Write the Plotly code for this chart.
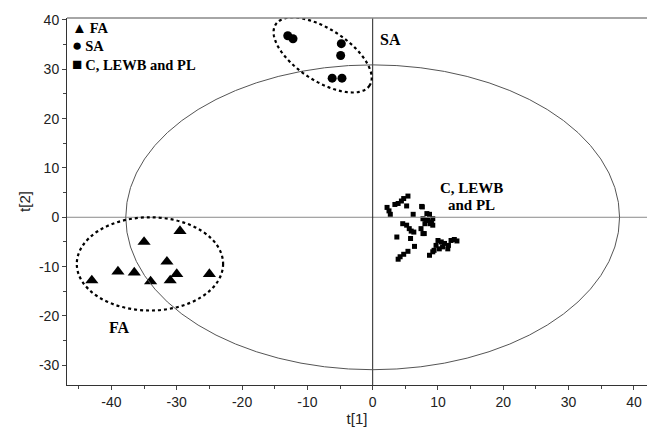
import numpy as np
import plotly.graph_objects as go

# ---- data ----
fa_x = [-43.0, -39.0, -36.5, -35.0, -34.0, -31.5, -31.0, -30.0, -29.5, -25.0]
fa_y = [-12.8, -11.0, -11.2, -5.0, -13.0, -9.0, -12.8, -11.5, -2.8, -11.5]

sa_x = [-13.0, -12.2, -4.8, -4.9, -6.2, -4.7]
sa_y = [36.8, 36.2, 35.2, 32.8, 28.2, 28.2]

c_x = [5.4, 4.75, 4.4, 3.9, 3.4, 5.2, 2.2, 2.5, 2.7, 6.2, 4.6, 5.2, 5.6, 5.9, 6.3,
       3.7, 5.8, 6.4, 5.4, 4.75, 4.2, 3.9,
       7.5, 7.6, 8.3, 8.7, 7.7, 8.4, 9.2, 8.2, 8.0, 8.8, 9.0, 9.2, 7.4, 7.9, 7.7,
       12.0, 12.5, 12.9, 11.6, 11.0, 10.5, 10.0, 9.7, 10.2, 11.5, 9.4, 9.2, 8.7, 10.7]
c_y = [4.3, 3.8, 3.3, 2.8, 2.6, 2.3, 2.0, 1.3, 0.6, 0.6, -1.3, -1.6, -2.3, -2.8, -3.0,
       -4.0, -4.3, -5.9, -6.9, -7.5, -8.0, -8.5,
       2.2, 2.1, 0.75, 0.6, -0.3, -0.6, -0.3, -0.6, -1.3, -1.3, -0.95, -1.6, -2.3, -3.3, -3.3,
       -4.7, -4.5, -4.8, -5.7, -5.3, -5.0, -4.7, -5.7, -6.4, -6.4, -6.7, -7.0, -7.7, -6.0]

group_names = ["FA", "SA", "C, LEWB and PL"]
legend_glyphs = ["\u25B2", "\u25CF", "\u25A0"]
legend_glyph_sizes = [15, 17, 17]

x_ticks = [-40, -30, -20, -10, 0, 10, 20, 30, 40]
y_ticks = [-30, -20, -10, 0, 10, 20, 30, 40]
x_tick_labels = ["-40", "-30", "-20", "-10", "0", "10", "20", "30", "40"]
y_tick_labels = ["-30", "-20", "-10", "0", "10", "20", "30", "40"]

serif = "Liberation Serif, Times New Roman, serif"
sans = "Liberation Sans, Arial, sans-serif"

fig = go.Figure()
fig.add_trace(go.Scatter(x=fa_x, y=fa_y, mode="markers", name=group_names[0],
                         marker=dict(symbol="triangle-up", size=11.5, color="black")))
fig.add_trace(go.Scatter(x=sa_x, y=sa_y, mode="markers", name=group_names[1],
                         marker=dict(symbol="circle", size=9, color="black")))
fig.add_trace(go.Scatter(x=c_x, y=c_y, mode="markers", name=group_names[2],
                         marker=dict(symbol="square", size=5, color="black")))

# tilted dotted ellipse around SA group (built in pixel-like units)
px_per_x, px_per_y = 6.53, 4.93
cx, cy = -7.66, 32.9
a, b, th = 56.0, 26.0, np.deg2rad(33)
t = np.linspace(0, 2 * np.pi, 120)
dx = a * np.cos(t) * np.cos(th) - b * np.sin(t) * np.sin(th)
dy = a * np.cos(t) * np.sin(th) + b * np.sin(t) * np.cos(th)
ex = cx + dx / px_per_x
ey = cy - dy / px_per_y
path = "M " + " L ".join(f"{xx:.3f},{yy:.3f}" for xx, yy in zip(ex, ey)) + " Z"

shapes = [
    dict(type="line", xref="x", yref="y", x0=-46.8, x1=42.0, y0=0, y1=0,
         line=dict(color="#8a8a8a", width=1)),
    dict(type="line", xref="x", yref="y", x0=0, x1=0, y0=-34.0, y1=40.4,
         line=dict(color="#222", width=1)),
    dict(type="circle", xref="x", yref="y", x0=-37.8, x1=37.8, y0=-30.9, y1=30.9,
         line=dict(color="#555", width=1)),
    dict(type="circle", xref="x", yref="y", x0=-45.3, x1=-22.9, y0=-18.9, y1=0.0,
         line=dict(color="black", width=2.2, dash="dot")),
    dict(type="path", xref="x", yref="y", path=path,
         line=dict(color="black", width=2.2, dash="dot")),
    dict(type="line", xref="paper", yref="paper", x0=0, x1=1, y0=1, y1=1,
         line=dict(color="#888", width=1.5)),
]

annotations = [
    dict(x=0.8, y=36.0, xref="x", yref="y", text="<b>SA</b>", showarrow=False,
         xanchor="left", font=dict(family=serif, size=16, color="black")),
    dict(x=15.2, y=5.9, xref="x", yref="y", text="<b>C, LEWB</b>", showarrow=False,
         xanchor="center", font=dict(family=serif, size=15, color="black")),
    dict(x=15.2, y=2.4, xref="x", yref="y", text="<b>and PL</b>", showarrow=False,
         xanchor="center", font=dict(family=serif, size=15, color="black")),
    dict(x=-38.7, y=-22.3, xref="x", yref="y", text="<b>FA</b>", showarrow=False,
         xanchor="center", font=dict(family=serif, size=16, color="black")),
]

# legend drawn as text lines in the upper-left corner
legend_rows_y = [0.972, 0.924, 0.874]
for glyph, gsize, name, yy in zip(legend_glyphs, legend_glyph_sizes, group_names, legend_rows_y):
    annotations.append(dict(
        x=0.006, y=yy, xref="paper", yref="paper", xanchor="left", yanchor="middle",
        showarrow=False,
        text=f"<span style='font-size:{gsize}px'>{glyph}</span><b>\u2009{name}</b>",
        font=dict(family=serif, size=14.5, color="black")))

fig.update_layout(
    width=647, height=428,
    margin=dict(l=67, r=0, t=18, b=43),
    paper_bgcolor="white", plot_bgcolor="white",
    shapes=shapes, annotations=annotations,
    showlegend=False,
    xaxis=dict(range=[-46.8, 42.0], tickvals=x_ticks, ticktext=x_tick_labels,
               ticks="outside", ticklen=4,
               showgrid=False, zeroline=False, showline=True, linecolor="#333", linewidth=1,
               tickfont=dict(family=sans, size=14, color="#222"),
               minor=dict(dtick=5, tick0=0, ticks="outside", ticklen=3, showgrid=False),
               title=dict(text="t[1]", font=dict(family=sans, size=15, color="#222"), standoff=4)),
    yaxis=dict(range=[-34.0, 40.4], tickvals=y_ticks, ticktext=y_tick_labels,
               ticks="outside", ticklen=4,
               showgrid=False, zeroline=False, showline=True, linecolor="#333", linewidth=1,
               tickfont=dict(family=sans, size=14, color="#222"),
               minor=dict(dtick=5, tick0=0, ticks="outside", ticklen=3, showgrid=False),
               title=dict(text="t[2]", font=dict(family=sans, size=15, color="#222"), standoff=4)),
)

fig.write_html("out.html", config={"displayModeBar": False},
               post_script="document.body.style.margin='0';document.body.style.overflow='hidden';")
